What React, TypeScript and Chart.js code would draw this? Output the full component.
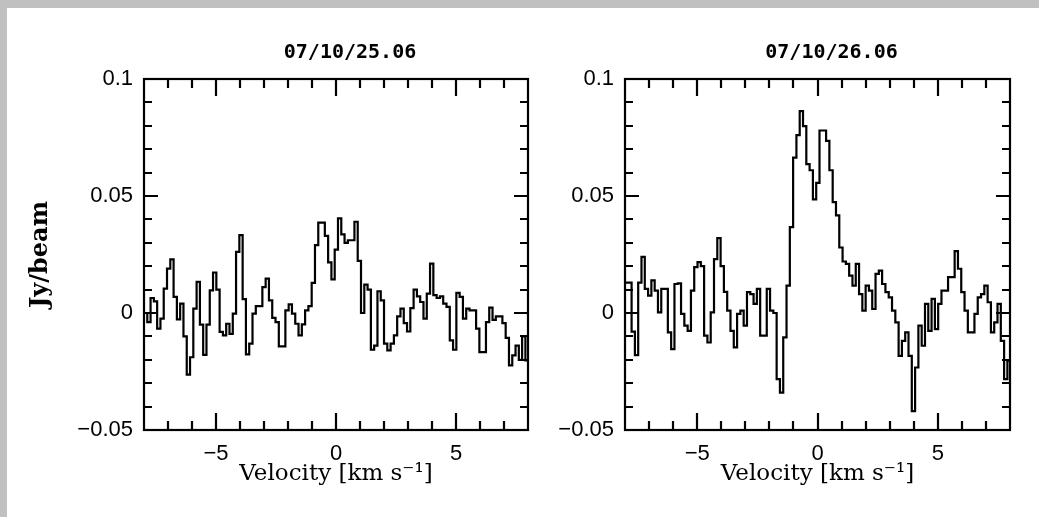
import React, { useEffect, useRef } from 'react';
import { Chart, registerables } from 'chart.js';

Chart.register(...registerables);

// Spectral axis: first channel left edge and channel width (km/s)
const V0 = -8.0;
const DV = 0.137;

// Flux density per channel (Jy/beam), panel 1 (07/10/25.06)
const spectrum1 = [
  0, -0.0039, 0.0064, 0.005, -0.0067, -0.0024, 0.0104, 0.019, 0.0229, 0.0069,
  -0.0027, 0.004, -0.01, -0.0263, -0.0189, 0.0019, 0.0133, -0.005, -0.0179, -0.005,
  0.0097, 0.0173, 0.01, -0.0081, -0.0096, -0.0046, -0.0089, -0.0003, 0.0261, 0.0333,
  0.0059, -0.0177, -0.0131, -0.0003, 0.0029, 0.0029, 0.0111, 0.0147, 0.0054, -0.0021,
  -0.0039, -0.0143, -0.0143, 0.0011, 0.0037, -0.0003, -0.0046, -0.0096, -0.0049, 0.0011,
  0.0029, 0.0129, 0.029, 0.0386, 0.0386, 0.033, 0.0216, 0.0144, 0.0271, 0.0404,
  0.0336, 0.03, 0.0311, 0.0311, 0.039, 0.0223, 0, 0.0121, 0.01, -0.0157,
  -0.0139, 0.0093, 0.0054, -0.0131, -0.016, -0.0131, -0.0096, -0.0014, 0.0019, -0.0043,
  -0.0079, 0.0021, 0.01, 0.0071, 0.0047, -0.0024, 0.0083, 0.0211, 0.0076, 0.0064,
  0.0071, 0.004, 0.0026, -0.0117, -0.0157, 0.0086, 0.0069, -0.0024, 0.0019, 0.0011,
  0.0011, -0.0067, -0.0167, -0.0167, -0.0039, 0.0023, -0.0029, -0.0014, -0.0014, -0.0043,
  -0.0106, -0.0224, -0.0181, -0.0139, -0.02, -0.01, -0.0203,
];

// Flux density per channel (Jy/beam), panel 2 (07/10/26.06)
const spectrum2 = [
  0.013, 0.013, -0.008, -0.018, 0.013, 0.024, 0.0103, 0.0074, 0.0139, 0.0096,
  0.0003, 0.0103, 0.0103, -0.0083, -0.0154, 0.0124, 0.0127, -0.0004, -0.0054, -0.0076,
  0.0096, 0.0196, 0.0217, 0.02, -0.0097, -0.0126, 0.0003, 0.023, 0.032, 0.02,
  0.009, 0.001, -0.0076, -0.0147, -0.0004, 0.001, -0.0054, 0.0089, 0.0081, 0.0039,
  0.0103, -0.0097, -0.0097, 0.0103, 0.001, 0.0, -0.0283, -0.034, -0.0104, 0.0117,
  0.0367, 0.0664, 0.076, 0.0863, 0.0799, 0.0636, 0.061, 0.0486, 0.0556, 0.078,
  0.078, 0.0736, 0.061, 0.0474, 0.0417, 0.028, 0.022, 0.021, 0.016, 0.0117,
  0.021, 0.0081, 0.001, 0.0117, 0.0096, 0.0017, 0.0167, 0.0181, 0.0124, 0.0089,
  0.0067, 0.001, -0.004, -0.0183, -0.0119, -0.0083, -0.0183, -0.0419, -0.0233, -0.0054,
  -0.014, 0.0039, -0.0076, 0.006, -0.0069, 0.0039, 0.0096, 0.0096, 0.0153, 0.0153,
  0.0264, 0.0189, 0.0089, 0.001, -0.0083, -0.0083, -0.0004, 0.0067, 0.0081, 0.0117,
  0.0046, -0.0083, -0.004, 0.0039, -0.0119, -0.0283, -0.0204,
];

const panelTitles = ['07/10/25.06', '07/10/26.06'];
const xTitle = 'Velocity [km s\u207B\u00B9]';
const yTitle = 'Jy/beam';

const X_MIN = -8;
const X_MAX = 8;
const Y_MIN = -0.05;
const Y_MAX = 0.1;

const xTickValues = [-5, 0, 5];
const xTickLabels = ['\u22125', '0', '5'];
const xMinorTicks = [-7, -6, -4, -3, -2, -1, 1, 2, 3, 4, 6, 7];
const yTickValues = [-0.05, 0, 0.05, 0.1];
const yTickLabels = ['\u22120.05', '0', '0.05', '0.1'];
const yMinorTicks = [-0.04, -0.03, -0.02, -0.01, 0.01, 0.02, 0.03, 0.04, 0.06, 0.07, 0.08, 0.09];

function toSteps(values: number[]) {
  const pts = values.map((v, i) => ({ x: V0 + i * DV, y: v }));
  pts.push({ x: V0 + values.length * DV, y: values[values.length - 1] });
  return pts;
}

const frameTicksPlugin = {
  id: 'frameTicks',
  afterDatasetsDraw(chart: any) {
    const { ctx, chartArea: a, scales } = chart;
    const xs = scales.x;
    const ys = scales.y;
    ctx.save();
    ctx.strokeStyle = '#000';
    ctx.lineWidth = 2.2;
    ctx.lineCap = 'butt';
    ctx.strokeRect(a.left, a.top, a.right - a.left, a.bottom - a.top);
    ctx.beginPath();
    const tx = (v: number, len: number) => {
      const p = Math.round(xs.getPixelForValue(v));
      ctx.moveTo(p, a.bottom);
      ctx.lineTo(p, a.bottom - len);
      ctx.moveTo(p, a.top);
      ctx.lineTo(p, a.top + len);
    };
    const ty = (v: number, len: number) => {
      const p = Math.round(ys.getPixelForValue(v));
      ctx.moveTo(a.left, p);
      ctx.lineTo(a.left + len, p);
      ctx.moveTo(a.right, p);
      ctx.lineTo(a.right - len, p);
    };
    xTickValues.forEach((v) => tx(v, 17));
    xMinorTicks.forEach((v) => tx(v, 9));
    yTickValues.forEach((v) => ty(v, 14));
    yMinorTicks.forEach((v) => ty(v, 8));
    ctx.stroke();

    const t = chart.options.plugins.panelTitle;
    if (t && t.text) {
      ctx.font = 'bold 20px "DejaVu Sans Mono"';
      ctx.fillStyle = '#000';
      ctx.textAlign = 'center';
      ctx.textBaseline = 'alphabetic';
      ctx.fillText(t.text, (a.left + a.right) / 2 + t.offsetX, t.y);
    }
    ctx.restore();
  },
};

function Panel({ values, title, showYTitle, width, height, yAxisWidth, padRight, left }: any) {
  const ref = useRef<HTMLCanvasElement | null>(null);
  useEffect(() => {
    if (!ref.current) return;
    const chart = new Chart(ref.current, {
      type: 'line',
      data: {
        datasets: [
          {
            data: toSteps(values),
            borderColor: '#000',
            borderWidth: 2.2,
            pointRadius: 0,
            stepped: true,
            fill: false,
          },
        ],
      },
      plugins: [frameTicksPlugin],
      options: {
        animation: false,
        responsive: false,
        maintainAspectRatio: false,
        devicePixelRatio: 1,
        layout: { padding: { top: 71, right: padRight, left: 0, bottom: 0 } },
        plugins: {
          legend: { display: false },
          tooltip: { enabled: false },
          title: { display: false },
          // @ts-ignore
          panelTitle: { text: title, offsetX: 14, y: 50 },
        },
        scales: {
          x: {
            type: 'linear',
            min: X_MIN,
            max: X_MAX,
            grid: { display: false, drawTicks: false },
            border: { display: false },
            afterBuildTicks: (s: any) => {
              s.ticks = xTickValues.map((v) => ({ value: v }));
            },
            afterFit: (s: any) => {
              s.height = 87;
            },
            ticks: {
              padding: 11,
              color: '#000',
              font: { family: '"Liberation Sans"', size: 22 },
              maxRotation: 0,
              autoSkip: false,
              callback: (v: any) => {
                const i = xTickValues.indexOf(Number(v));
                return i >= 0 ? xTickLabels[i] : '';
              },
            },
            title: {
              display: true,
              text: xTitle,
              color: '#000',
              font: { family: '"DejaVu Serif"', size: 23 },
              padding: { top: 0, bottom: 29 },
            },
          },
          y: {
            type: 'linear',
            min: Y_MIN,
            max: Y_MAX,
            grid: { display: false, drawTicks: false },
            border: { display: false },
            afterBuildTicks: (s: any) => {
              s.ticks = yTickValues.map((v) => ({ value: v }));
            },
            afterFit: (s: any) => {
              s.width = yAxisWidth;
            },
            ticks: {
              padding: 11,
              color: '#000',
              font: { family: '"Liberation Sans"', size: 22 },
              autoSkip: false,
              callback: (v: any) => {
                const i = yTickValues.findIndex((t) => Math.abs(t - Number(v)) < 1e-9);
                return i >= 0 ? yTickLabels[i] : '';
              },
            },
            title: {
              display: showYTitle,
              text: yTitle,
              color: '#000',
              font: { family: '"DejaVu Serif"', size: 24, weight: 'bold' },
              padding: { top: 19, bottom: 0 },
            },
          },
        },
      },
    } as any);
    return () => chart.destroy();
  }, []);
  return (
    <canvas
      ref={ref}
      width={width}
      height={height}
      style={{ position: 'absolute', left, top: 0, width, height }}
    />
  );
}

export default function App() {
  return (
    <div style={{ position: 'fixed', left: 0, top: 0, width: 1039, height: 517, background: '#c0c0c0', overflow: 'hidden' }}>
      <div style={{ position: 'absolute', left: 7, top: 8, width: 1032, height: 509, background: '#fff' }}>
        <Panel values={spectrum1} title={panelTitles[0]} showYTitle={true} width={525} height={509} yAxisWidth={137} padRight={4} left={0} />
        <Panel values={spectrum2} title={panelTitles[1]} showYTitle={false} width={507} height={509} yAxisWidth={93} padRight={29} left={525} />
      </div>
    </div>
  );
}
